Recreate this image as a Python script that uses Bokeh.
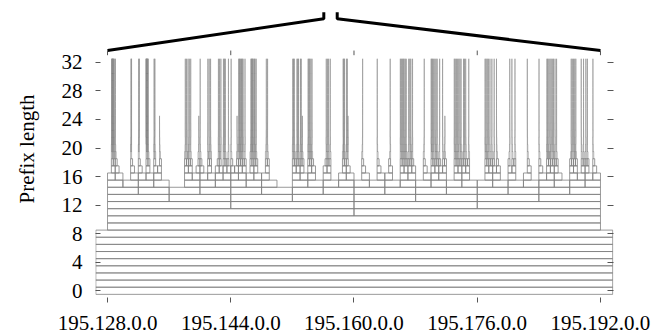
import math
from bokeh.plotting import figure
from bokeh.models import Range1d, FixedTicker, LinearAxis, ColumnDataSource
from bokeh.embed import file_html
from bokeh.resources import INLINE

# ---------------- data ----------------
x_tick_octets = [128, 144, 160, 176, 192]
x_tick_labels = ["195.128.0.0", "195.144.0.0", "195.160.0.0", "195.176.0.0", "195.192.0.0"]
y_ticks = [0, 4, 8, 12, 16, 20, 24, 28, 32]

block_lo = 128          # 195.128.0.0/10
block_hi = 192
block_len = 10
outer_rows = 9          # prefix lengths 0..8 drawn across the whole view

# leaf prefixes: position in units of the second octet, and prefix length
leaf_pos = [
    128.55, 128.62, 128.70, 128.80, 128.88, 129.03,
    131.05, 131.12, 132.06, 132.12,
    133.00, 133.08, 133.18, 133.28, 134.05, 134.15, 134.75,
    138.10, 138.25, 138.45, 138.62, 138.80, 139.85, 140.03,
    141.03, 141.20, 141.38, 142.40, 142.55, 142.72,
    143.05, 143.18, 143.30, 143.70, 144.05, 144.82,
    145.05, 145.20, 145.40, 145.60, 145.85,
    146.62, 146.78, 146.92, 147.08, 147.30, 148.62, 148.78,
    152.05, 152.25, 152.60, 152.80, 153.05, 153.30,
    154.05, 154.25, 154.55, 156.40, 156.55, 156.70, 156.92,
    158.60, 158.78, 159.05, 159.22, 161.12, 163.02, 164.70,
    166.02, 166.28, 166.50, 166.78, 167.10, 167.38, 167.60, 169.12,
    170.02, 170.22, 170.50, 170.80, 171.12, 171.50, 171.80,
    173.02, 173.30, 173.60, 173.90, 174.22, 174.50, 174.90,
    177.02, 177.30, 177.65, 177.90, 178.20, 178.50,
    180.22, 180.50, 180.90, 182.50, 184.02,
    185.05, 185.30, 185.60, 185.90, 186.10, 186.30,
    188.20, 188.50, 188.80, 189.50, 189.80, 190.10, 190.30, 191.02,
    # denser clusters
    128.58, 128.66, 128.74, 133.04, 133.12, 133.22,
    145.10, 145.30, 145.50, 146.70, 146.85, 147.15,
    152.15, 152.70, 153.15, 154.15, 154.40,
    158.68, 159.12, 166.15, 166.40, 166.65, 167.25,
    170.12, 170.35, 170.65, 173.15, 173.45, 173.75, 174.35,
    177.15, 177.45, 185.15, 185.45, 185.75, 188.35, 188.65,
]
leaf_len = [32] * len(leaf_pos)
for i in (16, 22, 35, 53, 64, 82):
    leaf_len[i] = 24

bracket_left_x = [128, 156.08, 156.08]
bracket_left_y = [33.65, 38.1, 39.0]
bracket_right_x = [157.82, 157.82, 192]
bracket_right_y = [39.0, 38.1, 33.65]
top_tick_y = [33.0, 33.65]

# ---------------- view ----------------
X0, X1 = 126.44, 193.69
Y0, Y1 = -0.94, 40.66

cells = set()
for pos, ln in zip(leaf_pos, leaf_len):
    for k in range(block_len - 1, ln + 1):
        w = 2.0 ** (16 - k)
        start = math.floor(pos / w) * w
        lo = max(start, block_lo)
        hi = min(start + w, block_hi)
        cells.add((k, lo, hi))
for k in range(outer_rows):
    cells.add((k, X0 + 0.04, X1 - 0.1))

cells = sorted(cells)
low = [c for c in cells if c[0] <= 18]
high = [c for c in cells if c[0] > 18]


def cell_source(cs):
    return ColumnDataSource(dict(
        left=[c[1] for c in cs],
        right=[c[2] for c in cs],
        bottom=[c[0] - 0.5 for c in cs],
        top=[c[0] + 0.5 for c in cs],
    ))


p = figure(width=660, height=335, output_backend="svg", toolbar_location=None,
           x_range=Range1d(X0, X1), y_range=Range1d(Y0, Y1),
           min_border_left=95, min_border_right=47, min_border_top=0,
           min_border_bottom=38, x_axis_location=None, y_axis_location=None)
p.outline_line_color = None
p.background_fill_color = "white"
p.border_fill_color = "white"
p.xgrid.grid_line_color = None
p.ygrid.grid_line_color = None

p.quad(left="left", right="right", bottom="bottom", top="top", source=cell_source(low),
       fill_color=None, line_color="#808080", line_width=0.8)
p.quad(left="left", right="right", bottom="bottom", top="top", source=cell_source(high),
       fill_color=None, line_color="#8c8c8c", line_width=0.6)

# bracket and top ticks
p.line(bracket_left_x, bracket_left_y, line_color="black", line_width=3)
p.line(bracket_right_x, bracket_right_y, line_color="black", line_width=3)
p.segment(x0=x_tick_octets, x1=x_tick_octets, y0=[top_tick_y[0]] * 5,
          y1=[top_tick_y[1]] * 5, line_color="#555555", line_width=1)

FONT = "Liberation Serif"

xa = LinearAxis(ticker=FixedTicker(ticks=x_tick_octets),
                major_label_overrides=dict(zip(x_tick_octets, x_tick_labels)))
xa.axis_line_color = None
xa.major_tick_line_color = "#555555"
xa.major_tick_in = 0
xa.major_tick_out = 5
xa.minor_tick_line_color = None
xa.major_label_standoff = 13
xa.major_label_text_font = FONT
xa.major_label_text_font_size = "21px"
xa.major_label_text_color = "black"
p.add_layout(xa, "below")

ya = LinearAxis(ticker=FixedTicker(ticks=y_ticks), axis_label="Prefix length")
ya.axis_line_color = None
ya.major_tick_line_color = "#555555"
ya.major_tick_in = 5
ya.major_tick_out = 0
ya.minor_tick_line_color = None
ya.major_label_standoff = 13
ya.major_label_text_font = FONT
ya.major_label_text_font_size = "21px"
ya.major_label_text_color = "black"
ya.axis_label_text_font = FONT
ya.axis_label_text_font_size = "21px"
ya.axis_label_text_font_style = "normal"
ya.axis_label_text_color = "black"
ya.axis_label_standoff = 20
p.add_layout(ya, "left")

yr = LinearAxis(ticker=FixedTicker(ticks=y_ticks))
yr.axis_line_color = None
yr.major_tick_line_color = "#555555"
yr.major_tick_in = 6
yr.major_tick_out = 0
yr.minor_tick_line_color = None
yr.major_label_text_alpha = 0
yr.major_label_text_font_size = "12px"
p.add_layout(yr, "right")

open("out.html", "w").write(file_html(p, INLINE))
